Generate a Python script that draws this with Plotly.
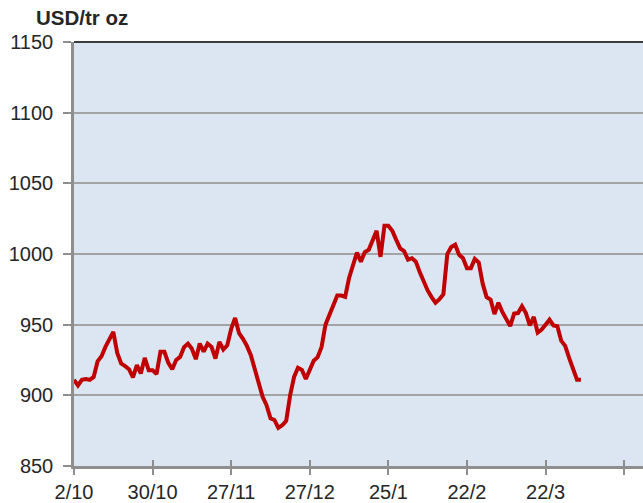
import plotly.graph_objects as go

# Gold price, USD per troy ounce (trading-day index, 2/10 onwards)
price = [
    911, 907, 911, 911.5, 911, 913, 924, 927.7, 934.3, 940,
    944.9, 930, 922.5, 920.6, 918.5, 912.7, 921.4, 915.5, 926.5, 917.8,
    917.8, 915, 930.8, 930.8, 923, 918.5, 925, 927.2, 934, 936.6,
    933, 925.6, 936.6, 931, 936.6, 934.3, 926, 937.8, 932.4, 935.4,
    947, 954.7, 944, 940, 935, 928.4, 919, 908, 899, 893,
    883.8, 882.6, 877, 878.8, 882, 900, 913, 919.5, 918, 911.5,
    919, 924.5, 927, 934.3, 950, 957, 964, 970.6, 970.6, 969.7,
    983, 992.5, 1001, 994.6, 1001.3, 1003, 1009, 1016.4, 998, 1020,
    1020, 1016.5, 1010, 1004, 1002, 996, 997, 994.6, 987, 980,
    974.2, 969.5, 965.5, 968, 971.5, 1000, 1005, 1006.6, 999.5, 997,
    990, 990, 996.5, 994, 979, 969.5, 967.8, 957.5, 965.5, 959,
    954, 949, 957.8, 958.2, 963, 958.2, 949.5, 955.5, 944.4, 946.5,
    950, 953.5, 949.5, 948.9, 938.5, 935, 926.5, 919, 911, 911,
]
day_index = list(range(len(price)))

tick_pos = [0, 20, 40, 60, 80, 100, 120, 140]
tick_labels = ["2/10", "30/10", "27/11", "27/12", "25/1", "22/2", "22/3", ""]

y_ticks = [850, 900, 950, 1000, 1050, 1100, 1150]

FONT = "Liberation Sans, Arial, sans-serif"
GRID = "#a3a3a3"
AXIS = "#8e8e8e"
X_RANGE = [0, 144.8]

fig = go.Figure()
fig.add_trace(go.Scatter(
    x=day_index, y=price, mode="lines",
    line=dict(color="#c00000", width=4),
    hoverinfo="skip", showlegend=False,
))
# invisible trace so the overlay axis (inner half of crossing ticks) is drawn
fig.add_trace(go.Scatter(
    x=[day_index[0]], y=[price[0]], xaxis="x2", mode="markers",
    marker=dict(opacity=0), hoverinfo="skip", showlegend=False,
))

fig.update_layout(
    width=643, height=503,
    margin=dict(l=74, r=0, t=42, b=35),
    paper_bgcolor="white",
    plot_bgcolor="#dce6f2",
    font=dict(family=FONT, size=20, color="#262626"),
    xaxis=dict(
        range=X_RANGE, tickmode="array", tickvals=tick_pos, ticktext=tick_labels,
        showgrid=False, zeroline=False,
        showline=True, linecolor=AXIS, linewidth=2.5,
        ticks="outside", ticklen=6, tickwidth=2, tickcolor=AXIS,
        tickfont=dict(size=20, color="#262626"),
    ),
    xaxis2=dict(
        range=X_RANGE, overlaying="x", anchor="y", side="bottom",
        tickmode="array", tickvals=tick_pos, showticklabels=False,
        showgrid=False, zeroline=False, showline=False,
        ticks="inside", ticklen=6, tickwidth=2, tickcolor=AXIS,
    ),
    yaxis=dict(
        range=[850, 1150], tickmode="array", tickvals=y_ticks,
        showgrid=True, gridcolor=GRID, gridwidth=2, zeroline=False,
        showline=True, linecolor=AXIS, linewidth=2.5,
        ticks="outside", ticklen=8, tickwidth=2, tickcolor=AXIS,
        ticklabelstandoff=6,
        tickfont=dict(size=20, color="#262626"),
    ),
    shapes=[dict(
        type="line", xref="paper", yref="paper", x0=0, x1=1, y0=1, y1=1,
        line=dict(color="#3c3c3c", width=2),
    )],
    annotations=[dict(
        text="<b>USD/tr oz</b>", xref="paper", yref="paper",
        x=-40 / 569, y=1, xanchor="left", yanchor="middle", yshift=25,
        showarrow=False, font=dict(family=FONT, size=20.5, color="#262626"),
    )],
)

fig.write_html(
    "out.html",
    config={"displayModeBar": False},
    post_script="document.body.style.margin='0';document.body.style.overflow='hidden';",
)
